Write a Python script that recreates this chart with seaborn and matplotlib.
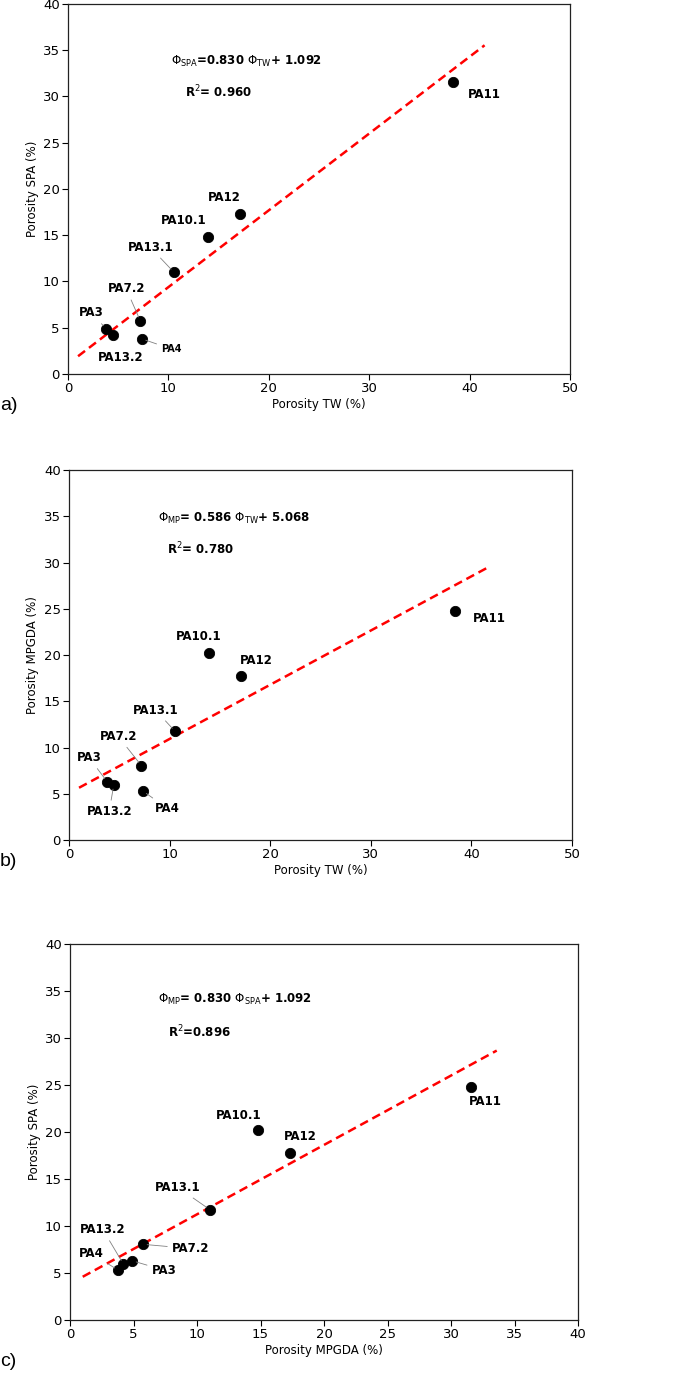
import numpy as np
import pandas as pd
import seaborn as sns
import matplotlib
matplotlib.use("Agg")
import matplotlib.pyplot as plt

# === Data ===
samples = ["PA3", "PA13.2", "PA7.2", "PA4", "PA13.1", "PA10.1", "PA12", "PA11"]
tw = [3.8, 4.45, 7.2, 7.35, 10.55, 13.9, 17.1, 38.4]
spa = [4.9, 4.2, 5.75, 3.8, 11.0, 14.8, 17.3, 31.6]
mpgda = [6.3, 5.95, 8.05, 5.3, 11.75, 20.2, 17.75, 24.75]

# fitted lines (slope, intercept) as drawn
fit_a = (0.830, 1.092)
fit_b = (0.586, 5.068)
fit_c = (0.738, 3.86)

df = pd.DataFrame({"sample": samples, "tw": tw, "spa": spa, "mpgda": mpgda})

sns.set_style("ticks")
plt.rcParams["font.family"] = ["DejaVu Sans"]
plt.rcParams["text.color"] = "black"
plt.rcParams["axes.labelcolor"] = "black"
plt.rcParams["xtick.color"] = "black"
plt.rcParams["ytick.color"] = "black"

fig = plt.figure(figsize=(6.85, 13.76), dpi=100)
ax_a = fig.add_axes([0.0993, 0.7282, 0.7327, 0.2689])
ax_b = fig.add_axes([0.1007, 0.3895, 0.7343, 0.2689])
ax_c = fig.add_axes([0.1022, 0.0407, 0.7416, 0.2733])

# label placement: sample -> (text x, text y, connector, fontsize)
labels_a = {
    "PA11": (41.5, 30.2, False, 8.5),
    "PA12": (15.6, 19.1, False, 8.5),
    "PA10.1": (11.5, 16.6, False, 8.5),
    "PA13.1": (8.2, 13.7, True, 8.5),
    "PA7.2": (5.8, 9.2, True, 8.5),
    "PA3": (2.3, 6.6, True, 8.5),
    "PA13.2": (5.25, 1.8, False, 8.5),
    "PA4": (10.3, 2.7, True, 7),
}
labels_b = {
    "PA11": (41.8, 24.0, False, 8.5),
    "PA10.1": (12.9, 22.0, False, 8.5),
    "PA12": (18.6, 19.4, False, 8.5),
    "PA13.1": (8.6, 14.05, True, 8.5),
    "PA7.2": (4.9, 11.2, True, 8.5),
    "PA3": (2.0, 8.9, True, 8.5),
    "PA13.2": (4.0, 3.1, True, 8.5),
    "PA4": (9.8, 3.4, True, 8.5),
}
labels_c = {
    "PA11": (32.7, 23.2, False, 8.5),
    "PA10.1": (13.25, 21.8, False, 8.5),
    "PA12": (18.1, 19.5, False, 8.5),
    "PA13.1": (8.5, 14.1, True, 8.5),
    "PA13.2": (2.6, 9.6, True, 8.5),
    "PA7.2": (9.5, 7.6, True, 8.5),
    "PA4": (1.65, 7.1, True, 8.5),
    "PA3": (7.4, 5.3, True, 8.5),
}


def panel(ax, xcol, ycol, fit, xline, labels, xlim, xticks, xlabel, ylabel,
          eq, eq_pos, r2, r2_pos):
    sns.scatterplot(data=df, x=xcol, y=ycol, ax=ax, color="black",
                    edgecolor="black", s=55, zorder=3)
    xs = np.array(xline)
    sns.lineplot(x=xs, y=fit[0] * xs + fit[1], ax=ax, color="red",
                 linestyle=(0, (3.5, 2)), linewidth=1.8, zorder=2)
    for name, (tx, ty, conn, fs) in labels.items():
        row = df[df["sample"] == name].iloc[0]
        if conn:
            ax.annotate(name, xy=(row[xcol], row[ycol]), xytext=(tx, ty),
                        ha="center", va="center", fontsize=fs, fontweight="bold",
                        arrowprops=dict(arrowstyle="-", color="grey", lw=0.6,
                                        shrinkA=1, shrinkB=3))
        else:
            ax.text(tx, ty, name, ha="center", va="center", fontsize=fs,
                    fontweight="bold")
    ax.text(eq_pos[0], eq_pos[1], eq, fontsize=8.5, fontweight="bold",
            ha="left", va="center")
    ax.text(r2_pos[0], r2_pos[1], r2, fontsize=8.5, fontweight="bold",
            ha="left", va="center")
    ax.set_xlim(xlim)
    ax.set_ylim(0, 40)
    ax.set_xticks(xticks)
    ax.set_yticks(range(0, 41, 5))
    ax.set_xlabel(xlabel, fontsize=8.5, labelpad=2)
    ax.set_ylabel(ylabel, fontsize=8.5, labelpad=3)
    ax.tick_params(labelsize=9.5, length=4, width=0.8, pad=2)
    for sp in ax.spines.values():
        sp.set_visible(True)
        sp.set_linewidth(0.9)
        sp.set_color("#222222")


panel(ax_a, "tw", "spa", fit_a, [1.0, 41.5], labels_a, (0, 50), range(0, 51, 10),
      "Porosity TW (%)", "Porosity SPA (%)",
      r"$\Phi_{\mathrm{SPA}}$=0.830 $\Phi_{\mathrm{TW}}$+ 1.092", (10.3, 33.8),
      r"R$^{2}$= 0.960", (11.7, 30.5))
panel(ax_b, "tw", "mpgda", fit_b, [1.0, 41.5], labels_b, (0, 50), range(0, 51, 10),
      "Porosity TW (%)", "Porosity MPGDA (%)",
      r"$\Phi_{\mathrm{MP}}$= 0.586 $\Phi_{\mathrm{TW}}$+ 5.068", (8.85, 34.8),
      r"R$^{2}$= 0.780", (9.7, 31.5))
panel(ax_c, "spa", "mpgda", fit_c, [1.0, 33.6], labels_c, (0, 40), range(0, 41, 5),
      "Porosity MPGDA (%)", "Porosity SPA (%)",
      r"$\Phi_{\mathrm{MP}}$= 0.830 $\Phi_{\mathrm{SPA}}$+ 1.092", (6.96, 34.1),
      r"R$^{2}$=0.896", (7.74, 30.6))

for letter, yfrac in [("a)", 1 - 405 / 1376), ("b)", 1 - 862 / 1376), ("c)", 1 - 1362 / 1376)]:
    fig.text(0.0, yfrac, letter, fontsize=14, family="Liberation Sans",
             ha="left", va="center")

fig.savefig("out.png", dpi=100)
